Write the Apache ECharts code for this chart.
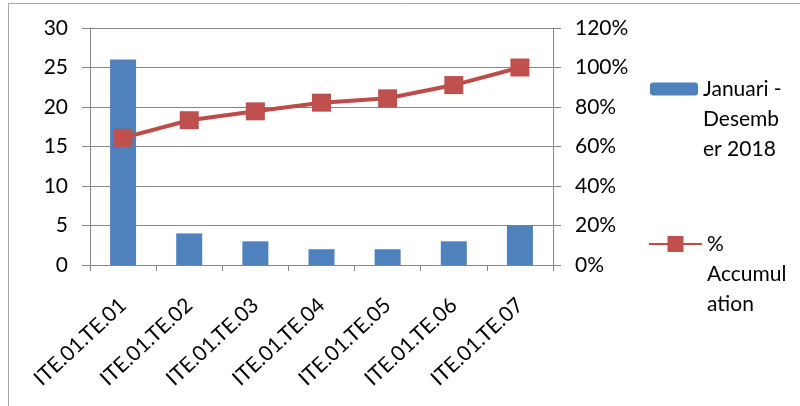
<!DOCTYPE html>
<html>
<head>
<meta charset="utf-8">
<script src="https://cdn.jsdelivr.net/npm/echarts@6/dist/echarts.min.js"></script>
<style>
  html, body { margin: 0; padding: 0; background: #ffffff; }
  #chart { width: 800px; height: 406px; }
</style>
</head>
<body>
<div id="chart"></div>
<script>
// Pareto data: defect counts per item and running percentage
const categories = ['ITE.01.TE.01', 'ITE.01.TE.02', 'ITE.01.TE.03', 'ITE.01.TE.04', 'ITE.01.TE.05', 'ITE.01.TE.06', 'ITE.01.TE.07'];
const counts = [26, 4, 3, 2, 2, 3, 5];
const accumulation = [64.4, 73.3, 77.8, 82.2, 84.4, 91.1, 100];
const countTicks = { min: 0, max: 30, interval: 5 };
const percentTicks = { min: 0, max: 120, interval: 20 };

const barName = 'Januari - Desember 2018';
const lineName = '% Accumulation';

const FONT = 'Lato';
const AXIS_GRAY = '#868686';

const chart = echarts.init(document.getElementById('chart'));

chart.setOption({
  backgroundColor: '#ffffff',
  animation: false,
  textStyle: { fontFamily: FONT },
  graphic: [{
    type: 'rect',
    silent: true,
    shape: { x: 8.5, y: 3.5, width: 900, height: 600 },
    style: { fill: 'none', stroke: '#A6A6A6', lineWidth: 1 }
  }],
  grid: { left: 90, right: 247, top: 28, bottom: 141, containLabel: false },
  legend: [
    {
      data: [barName],
      orient: 'vertical',
      left: 645,
      top: 9,
      itemWidth: 48,
      itemHeight: 13,
      itemGap: 0,
      textStyle: { fontFamily: FONT, fontSize: 21, color: '#000', lineHeight: 30 },
      formatter: () => '\n\nJanuari -\nDesemb\ner 2018'
    },
    {
      data: [lineName],
      orient: 'vertical',
      left: 643,
      top: 164,
      itemWidth: 53,
      itemHeight: 20,
      itemGap: 0,
      textStyle: { fontFamily: FONT, fontSize: 21, color: '#000', lineHeight: 30 },
      formatter: () => '\n\n%\nAccumul\nation'
    }
  ],
  xAxis: {
    type: 'category',
    data: categories,
    boundaryGap: true,
    axisLine: { lineStyle: { color: AXIS_GRAY, width: 1 } },
    axisTick: { show: true, length: 6, alignWithLabel: false, lineStyle: { color: AXIS_GRAY } },
    axisLabel: {
      rotate: 43,
      margin: 37,
      fontFamily: FONT,
      fontSize: 21,
      color: '#000',
      interval: 0
    },
    splitLine: { show: false }
  },
  yAxis: [
    {
      type: 'value',
      min: countTicks.min,
      max: countTicks.max,
      interval: countTicks.interval,
      axisLine: { show: true, lineStyle: { color: AXIS_GRAY, width: 1 } },
      axisTick: { show: true, length: 8, lineStyle: { color: AXIS_GRAY } },
      axisLabel: { margin: 22, fontFamily: FONT, fontSize: 21, color: '#000' },
      splitLine: { show: true, lineStyle: { color: AXIS_GRAY, width: 1 } }
    },
    {
      type: 'value',
      min: percentTicks.min,
      max: percentTicks.max,
      interval: percentTicks.interval,
      position: 'right',
      axisLine: { show: true, lineStyle: { color: AXIS_GRAY, width: 1 } },
      axisTick: { show: true, length: 8, lineStyle: { color: AXIS_GRAY } },
      axisLabel: { margin: 22, fontFamily: FONT, fontSize: 21, color: '#000', formatter: '{value}%' },
      splitLine: { show: false }
    }
  ],
  series: [
    {
      name: barName,
      type: 'bar',
      data: counts,
      yAxisIndex: 0,
      barWidth: 26,
      itemStyle: { color: '#4F81BD' }
    },
    {
      name: lineName,
      type: 'line',
      data: accumulation,
      yAxisIndex: 1,
      symbol: 'rect',
      symbolSize: [19, 18],
      lineStyle: { color: '#BE4B48', width: 4 },
      itemStyle: { color: '#C0504D', borderWidth: 0 },
      z: 3
    }
  ]
});
</script>
</body>
</html>
